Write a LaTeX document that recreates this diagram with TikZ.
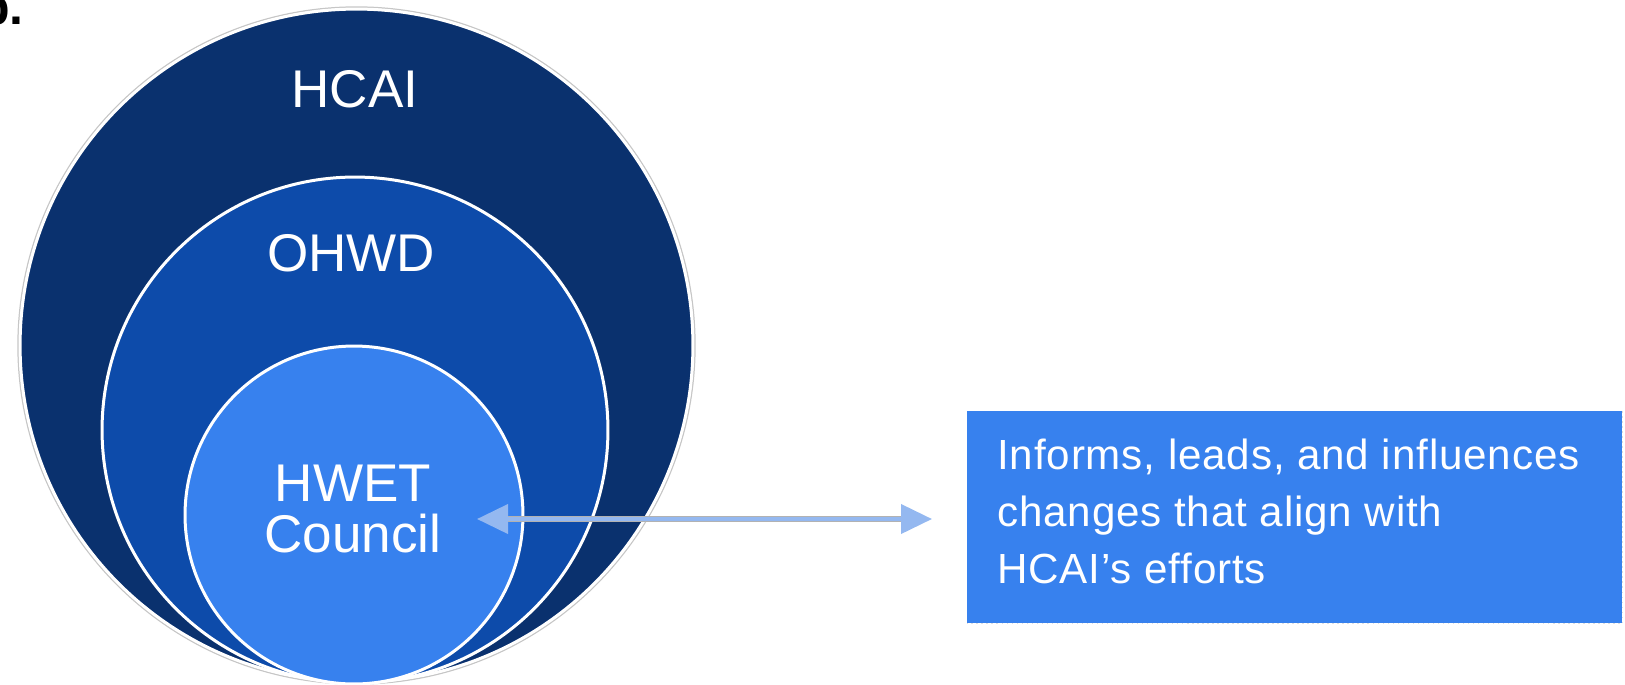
\documentclass[tikz,border=0pt]{standalone}
\usepackage{fontspec}
\setmainfont{Liberation Sans}
\usepackage{xcolor}
\usetikzlibrary{arrows.meta}

\definecolor{hcaiblue}{RGB}{10,49,110}
\definecolor{ohwdblue}{RGB}{13,75,170}
\definecolor{hwetblue}{RGB}{55,129,238}
\definecolor{arrowblue}{RGB}{148,184,240}

\begin{document}
\begin{tikzpicture}[x=0.02cm,y=-0.02cm,
	ring/.style={circle,draw=white,line width=0.06cm,inner sep=0pt},
	ringlabel/.style={text=white,align=center,font=\fontsize{30.2pt}{29pt}\selectfont}]
	\useasboundingbox (0,0) rectangle (1625,684);
	\node[anchor=base west,inner sep=0pt,font=\bfseries\fontsize{28.5pt}{30pt}\selectfont] at (-21,24) (tag) {b.};
	% nested circles
	\node[circle,draw=gray!45,line width=0.03cm,inner sep=0pt,minimum size=13.54cm] at (356.5,345.5) (rim) {};
	\node[ring,fill=hcaiblue,minimum size=13.46cm] at (356.5,345.5) (hcai) {};
	\node[ring,fill=ohwdblue,minimum size=10.12cm] at (355,430) (ohwd) {};
	\node[ring,fill=hwetblue,minimum size=6.76cm] at (354,515) (hwet) {};
	\node[ringlabel] at (355,89) (hcailabel) {HCAI};
	\node[ringlabel] at (351,253.5) (ohwdlabel) {OHWD};
	\node[ringlabel] at (353,509) (hwetlabel) {HWET\\Council};
	% note box
	\node[fill=hwetblue,anchor=north west,minimum width=13.1cm,minimum height=4.24cm,inner sep=0pt] at (967,411) (note) {};
	\draw[gray!25,dotted,line width=0.03cm] (note.north east) -- (note.south east) -- (note.south west);
	\node[text=white,anchor=west,inner sep=0pt,align=left,font=\fontsize{24pt}{32.4pt}\selectfont\addfontfeature{LetterSpace=2}] at ([xshift=0.6cm,yshift=0.12cm]note.west) (notetext) {Informs, leads, and influences\\changes that align with\\HCAI's efforts};
	% two way arrow
	\coordinate (arrowleft) at (477,519);
	\coordinate (arrowright) at (932,519);
	\draw[gray!60,line width=0.13cm,shorten <=0.6cm,shorten >=0.6cm] (arrowleft) -- (arrowright);
	\draw[arrowblue,line width=0.08cm,{Triangle[length=0.62cm,width=0.58cm]}-{Triangle[length=0.62cm,width=0.58cm]}] (arrowleft) -- (arrowright);
\end{tikzpicture}
\end{document}
